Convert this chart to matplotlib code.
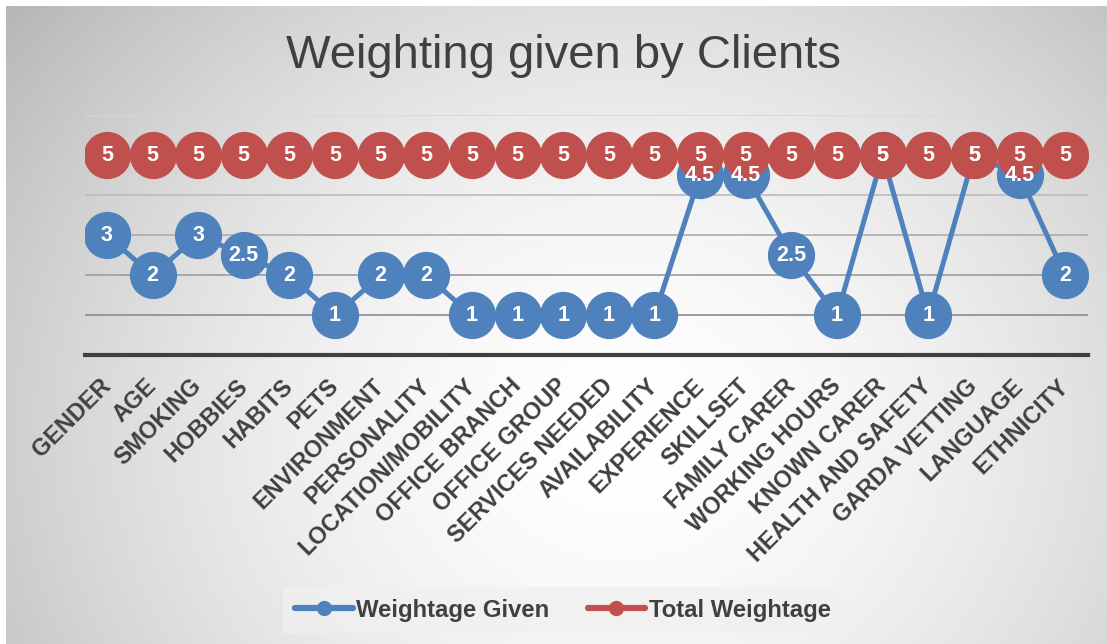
import numpy as np
import matplotlib
matplotlib.use("Agg")
import matplotlib.pyplot as plt
import matplotlib.transforms as mtransforms
from matplotlib.lines import Line2D

categories = ["GENDER", "AGE", "SMOKING", "HOBBIES", "HABITS", "PETS", "ENVIRONMENT",
              "PERSONALITY", "LOCATION/MOBILITY", "OFFICE BRANCH", "OFFICE GROUP",
              "SERVICES NEEDED", "AVAILABILITY", "EXPERIENCE", "SKILLSET", "FAMILY CARER",
              "WORKING HOURS", "KNOWN CARER", "HEALTH AND SAFETY", "GARDA VETTING",
              "LANGUAGE", "ETHNICITY"]
weightage_given = [3, 2, 3, 2.5, 2, 1, 2, 2, 1, 1, 1, 1, 1, 4.5, 4.5, 2.5, 1, 5, 1, 5, 4.5, 2]
total_weightage = [5, 5, 5, 5, 5, 5, 5, 5, 5, 5, 5, 5, 5, 5, 5, 5, 5, 5, 5, 5, 5, 5]
series_names = ["Weightage Given", "Total Weightage"]
y_ticks = [0, 1, 2, 3, 4, 5, 6]

BLUE = "#4f81bd"
RED = "#c0504d"
TXT = "#404040"
FONT = "Liberation Sans"

W, H = 1107, 644
fig = plt.figure(figsize=(W / 100, H / 100), dpi=100)
fig.patch.set_facecolor("white")

# radial gradient background
bg = fig.add_axes([6 / W, 0, 1 - 6 / W, 1 - 6 / H], zorder=-10)
yy, xx = np.mgrid[0:H, 0:W]
cx, cy = 620, 430
r = np.sqrt(((xx - cx) / 640.0) ** 2 + ((yy - cy) / 560.0) ** 2)
val = 1 - 0.2 * np.clip(r, 0, 1.3) ** 1.7
img = np.dstack([val, val, val])
bg.imshow(img, aspect="auto", extent=[0, 1, 0, 1], origin="upper")
bg.set_xlim(0, 1); bg.set_ylim(0, 1)
bg.axis("off")

left, right = 85 / W, 1088 / W
top, bottom = 1 - 115 / H, 1 - 355.5 / H
ax = fig.add_axes([left, bottom, right - left, top - bottom])
ax.patch.set_alpha(0)

x = np.arange(len(categories))
ax.plot(x, weightage_given, color=BLUE, lw=3.6, marker="o", ms=33, mec=BLUE,
        mfc=BLUE, zorder=3, solid_capstyle="round")
ax.plot(x, total_weightage, color=RED, lw=3.6, marker="o", ms=33, mec=RED,
        mfc=RED, zorder=4, solid_capstyle="round")

for xi, v in zip(x, weightage_given):
    ax.text(xi, v, f"{v:g}", ha="center", va="center", color="white",
            fontsize=15.5, fontweight="bold", family=FONT, zorder=6)
for xi, v in zip(x, total_weightage):
    ax.text(xi, v, f"{v:g}", ha="center", va="center", color="white",
            fontsize=15.5, fontweight="bold", family=FONT, zorder=6)

ax.set_xlim(-0.48, len(categories) - 1 + 0.5)
ax.set_ylim(0, 6)
ax.set_yticks(y_ticks)
ax.set_yticklabels([])
ax.tick_params(axis="y", length=0)
ax.grid(axis="y", lw=1.2, zorder=0)
grid_cols = ["#000000", "#8c8c8c", "#9c9c9c", "#acacac", "#bcbcbc", "#c8c8c8", "#d8d8d8"]
for gl, c in zip(ax.yaxis.get_gridlines(), grid_cols):
    gl.set_color(c)
ax.yaxis.get_gridlines()[0].set_visible(False)
for s in ["left", "right", "top"]:
    ax.spines[s].set_visible(False)
ax.spines["bottom"].set_color("#404040")
ax.spines["bottom"].set_linewidth(3)
ax.spines["bottom"].set_zorder(2)

ax.set_xticks(x)
ax.set_xticklabels(categories, rotation=45, ha="right", va="top",
                   rotation_mode="anchor", fontsize=16.8, fontweight="bold",
                   family=FONT, color=TXT)
ax.tick_params(axis="x", length=0, pad=13)
offset = mtransforms.ScaledTranslation(-8 / 100, -1 / 100, fig.dpi_scale_trans)
for lbl in ax.get_xticklabels():
    lbl.set_transform(lbl.get_transform() + offset)

fig.text(563 / W, 1 - 56 / H, "Weighting given by Clients", ha="center", va="center",
         fontsize=34, family=FONT, color=TXT)

handles = [Line2D([0], [0], color=BLUE, lw=4.5, marker="o", ms=10, solid_capstyle="round"),
           Line2D([0], [0], color=RED, lw=4.5, marker="o", ms=10, solid_capstyle="round")]
leg = fig.legend(handles, series_names, loc="center", bbox_to_anchor=(563 / W, 1 - 610 / H),
                 ncol=2, frameon=True, fancybox=False, facecolor="#f0f0f0", edgecolor="none",
                 framealpha=0.8, handlelength=2.4, handletextpad=0.15, columnspacing=1.6,
                 borderpad=0.5, borderaxespad=0,
                 prop={"family": FONT, "weight": "bold", "size": 17.2})
for t in leg.get_texts():
    t.set_color(TXT)

fig.savefig("out.png", dpi=100)
